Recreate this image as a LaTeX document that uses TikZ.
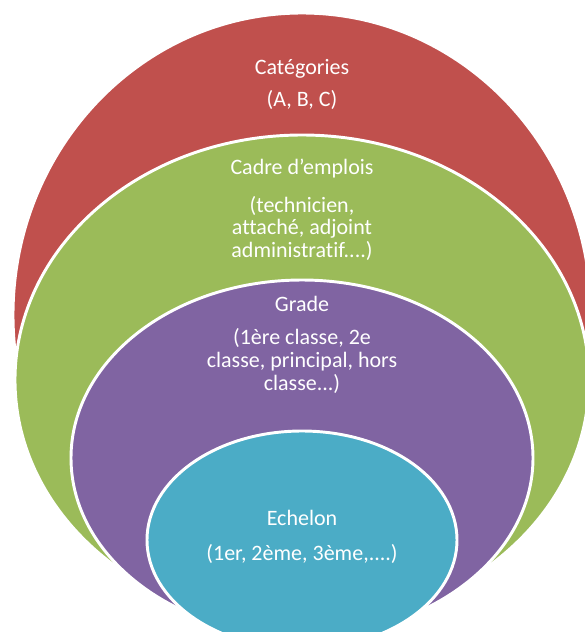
\documentclass[tikz,border=0pt]{standalone}
\usepackage{fontspec}
\setmainfont[Ligatures=NoCommon]{Carlito}

\definecolor{catred}{RGB}{192,80,77}
\definecolor{cadregreen}{RGB}{155,187,89}
\definecolor{gradepurple}{RGB}{128,100,162}
\definecolor{echeloncyan}{RGB}{75,172,198}

\tikzset{every picture/.style={line width=0.75pt}}
\tikzset{
  ring/.style={draw=white, line width=2.2pt, fill=#1},
  ringlabel/.style={text=white, align=center, inner sep=0.75pt, font=\fontsize{16.5}{17}\selectfont}
}

\begin{document}
\begin{tikzpicture}[x=0.75pt,y=0.75pt,yscale=-1,xscale=1]
\useasboundingbox (0,0) rectangle (585,632);
\clip (0,0) rectangle (585,632);

%Shape: Ellipse [categories]
\path [ring=catred] (302,315) ellipse [x radius=289, y radius=302];
%Shape: Ellipse [cadre d'emplois]
\path [ring=cadregreen] (302,380) ellipse [x radius=287, y radius=245];
%Shape: Ellipse [grade]
\path [ring=gradepurple] (302,458) ellipse [x radius=231, y radius=178];
%Shape: Ellipse [echelon]
\path [ring=echeloncyan] (302,540) ellipse [x radius=155, y radius=109];

% Text Node
\node [ringlabel] (categories) at (302,84) {Catégories\\[7pt](A, B, C)};
% Text Node
\node [ringlabel] (cadre) at (302,210) {Cadre d’emplois\\[11pt](technicien,\\attaché, adjoint\\administratif....)};
% Text Node
\node [ringlabel, font=\fontsize{16.5}{17.6}\selectfont] (grade) at (302,345) {Grade\\[7pt](1ère classe, 2e\\classe, principal, hors\\classe...)};
% Text Node
\node [ringlabel] (echelon) at (302,537) {Echelon\\[9.5pt](1er, 2ème, 3ème,....)};

\end{tikzpicture}
\end{document}
